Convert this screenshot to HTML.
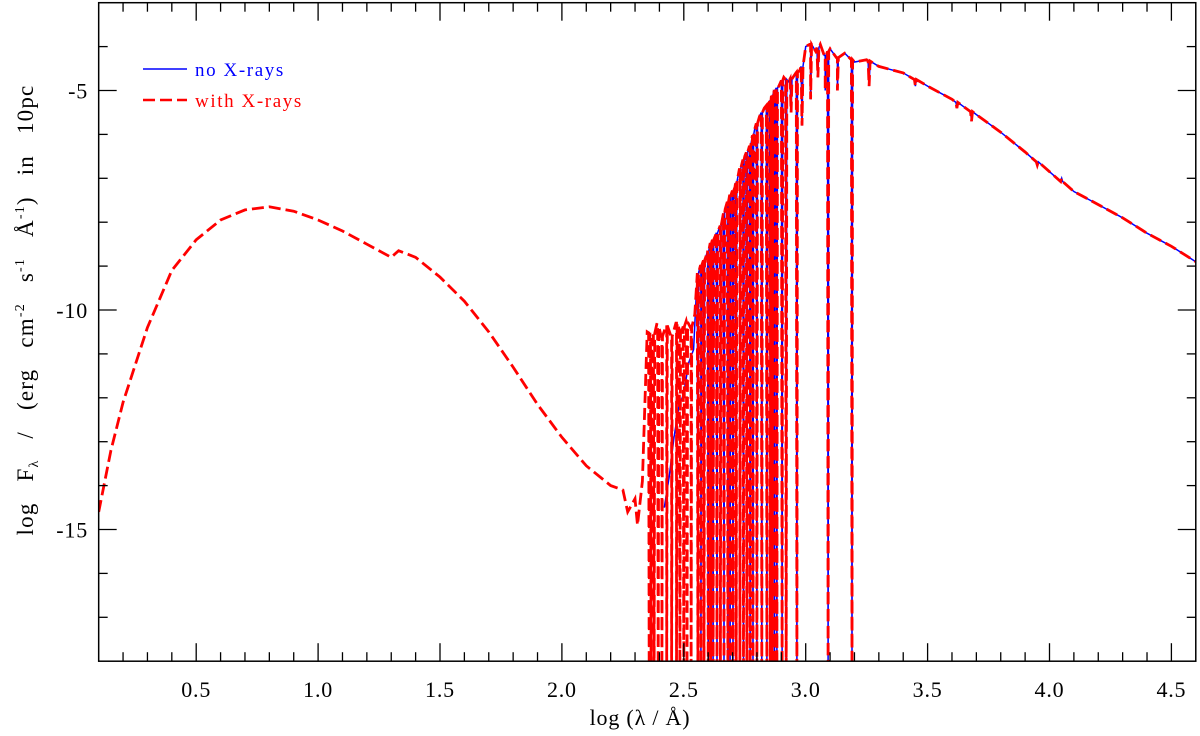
<!DOCTYPE html>
<html><head><meta charset="utf-8"><style>
html,body{margin:0;padding:0;background:#fff;}
svg{display:block;font-family:"Liberation Serif",serif;}
</style></head><body>
<svg id="chart" width="1200" height="736" viewBox="0 0 1200 736">
<g id="series"></g>
<g id="axes"></g>
<g>
  <line x1="143" y1="69" x2="187" y2="69" stroke="#0000ff" stroke-width="1.5"/>
  <text x="195" y="76" font-size="19" letter-spacing="1.6" fill="#0000ff">no X-rays</text>
  <line x1="143" y1="100" x2="187" y2="100" stroke="#ff0000" stroke-width="2.5" stroke-dasharray="12,5"/>
  <text x="195" y="107" font-size="19" letter-spacing="1.6" fill="#ff0000">with X-rays</text>
</g>
<text x="640" y="725" font-size="22" letter-spacing="0.8" text-anchor="middle">log (λ / Å)</text>
<text transform="translate(33,310) rotate(-90)" font-size="23" letter-spacing="1.2" word-spacing="14" text-anchor="middle">log  F<tspan font-size="14" dy="5">λ</tspan><tspan dy="-5"> / (erg cm</tspan><tspan font-size="14" dy="-9">-2</tspan><tspan dy="9"> s</tspan><tspan font-size="14" dy="-9">-1</tspan><tspan dy="9"> Å</tspan><tspan font-size="14" dy="-9">-1</tspan><tspan dy="9">) in 10pc</tspan></text>
</svg>
<script>
const xrayX = [0.1,0.15,0.2,0.3,0.4,0.5,0.6,0.7,0.8,0.9,1.0,1.1,1.2,1.3,1.33,1.4,1.5,1.6,1.7,1.8,1.9,2.0,2.1,2.2,2.25,2.27,2.3,2.31,2.33,2.35];
const xrayY = [-14.6,-13.2,-12.1,-10.4,-9.1,-8.4,-7.95,-7.72,-7.65,-7.75,-7.95,-8.2,-8.5,-8.8,-8.65,-8.8,-9.25,-9.8,-10.5,-11.3,-12.15,-12.9,-13.55,-14.0,-14.1,-14.6,-14.3,-14.9,-13.9,-10.5];
const specX = [2.35,2.37,2.39,2.41,2.43,2.45,2.47,2.49,2.51,2.53,2.545,2.555,2.57,2.59,2.61,2.63,2.65,2.67,2.69,2.71,2.73,2.75,2.77,2.79,2.81,2.83,2.85,2.87,2.89,2.91,2.93,2.96,2.975,2.99,3.0,3.02,3.04,3.06,3.08,3.1,3.13,3.16,3.2,3.25,3.3,3.4,3.5,3.6,3.7,3.8,3.9,4.0,4.1,4.2,4.3,4.4,4.5,4.6];
const specY = [-10.4,-10.7,-10.3,-10.6,-10.35,-10.6,-10.3,-10.5,-10.25,-10.4,-10.1,-9.2,-9.0,-8.8,-8.5,-8.3,-8.1,-7.7,-7.4,-7.2,-6.8,-6.5,-6.3,-5.9,-5.6,-5.4,-5.3,-5.0,-4.9,-4.7,-4.8,-4.6,-4.55,-4.4,-4.0,-3.95,-4.1,-3.95,-4.2,-4.05,-4.25,-4.15,-4.35,-4.3,-4.45,-4.6,-4.9,-5.2,-5.55,-5.95,-6.4,-6.85,-7.3,-7.6,-7.9,-8.25,-8.55,-8.9];
const blueStartX = [2.42,2.44,2.46,2.48,2.5,2.52,2.54];
const blueStartY = [-14.5,-13.8,-12.9,-12.2,-11.9,-11.2,-10.9];
const lineX = [2.358,2.366,2.378,2.395,2.41,2.43,2.45,2.47,2.484,2.5,2.513,2.53,2.558,2.57,2.583,2.6,2.61,2.62,2.636,2.65,2.665,2.681,2.69,2.702,2.715,2.73,2.745,2.759,2.772,2.784,2.8,2.82,2.841,2.855,2.862,2.872,2.882,2.903,2.92,2.964,3.092,3.19];
const bumpX = [2.94,2.985,3.02,3.05,3.08,3.13,3.26,3.45,3.62,3.68,3.95,4.05];
const bumpY = [-5.5,-5.8,-5.2,-4.7,-5.0,-5.0,-4.9,-4.9,-5.4,-5.7,-6.7,-7.0];

const X0=74.3, XS=243.8, Y0=90.5, YS=43.9;
const sx = v => X0 + v*XS;
const sy = v => Y0 - (v+5)*YS;
const NS='http://www.w3.org/2000/svg';
const series=document.getElementById('series');
const axes=document.getElementById('axes');
const XMIN=0.1,XMAX=4.6,YMIN=-18,YMAX=-3;

function interp(xs,ys,x){for(let i=0;i<xs.length-1;i++){if(x>=xs[i]&&x<=xs[i+1]){const t=(x-xs[i])/(xs[i+1]-xs[i]);return ys[i]+t*(ys[i+1]-ys[i]);}}return ys[ys.length-1];}

function specPoints(startX){
  let events=[];
  specX.forEach((x,i)=>{if(x>=startX)events.push([x,specY[i]]);});
  lineX.forEach(x=>{if(x>=startX){const e=interp(specX,specY,x);events.push([x-0.0025,e]);events.push([x,YMIN-0.5]);events.push([x+0.0025,e]);}});
  bumpX.forEach((x,i)=>{const e=interp(specX,specY,x);events.push([x-0.004,e]);events.push([x,bumpY[i]]);events.push([x+0.004,e]);});
  events.sort((a,b)=>a[0]-b[0]);
  return events;
}
function pathFrom(arr){return arr.map((p,i)=>(i?'L':'M')+sx(p[0]).toFixed(1)+','+sy(p[1]).toFixed(1)).join(' ');}

const clip=document.createElementNS(NS,'clipPath');clip.setAttribute('id','pc');
const cr=document.createElementNS(NS,'rect');cr.setAttribute('x',sx(XMIN));cr.setAttribute('y',sy(YMAX));cr.setAttribute('width',sx(XMAX)-sx(XMIN));cr.setAttribute('height',sy(YMIN)-sy(YMAX));
clip.appendChild(cr);series.appendChild(clip);
series.setAttribute('clip-path','url(#pc)');

let bluePts=blueStartX.map((x,i)=>[x,blueStartY[i]]).concat(specPoints(2.55));
const blue=document.createElementNS(NS,'path');
blue.setAttribute('d',pathFrom(bluePts));
blue.setAttribute('fill','none');blue.setAttribute('stroke','#0000ff');blue.setAttribute('stroke-width','1.5');


series.appendChild(blue);

let redPts=xrayX.map((x,i)=>[x,xrayY[i]]).concat(specPoints(2.351));
const red=document.createElementNS(NS,'path');
red.setAttribute('d',pathFrom(redPts));
red.setAttribute('fill','none');red.setAttribute('stroke','#ff0000');red.setAttribute('stroke-width','2.8');red.setAttribute('stroke-dasharray','12,5');


series.appendChild(red);

const L=sx(XMIN),R=sx(XMAX),T=sy(YMAX),B=sy(YMIN);
const fr=document.createElementNS(NS,'rect');
fr.setAttribute('x',L);fr.setAttribute('y',T);fr.setAttribute('width',R-L);fr.setAttribute('height',B-T);
fr.setAttribute('fill','none');fr.setAttribute('stroke','#000');fr.setAttribute('stroke-width','1.5');


axes.appendChild(fr);
function ln(x1,y1,x2,y2,name){const l=document.createElementNS(NS,'line');l.setAttribute('x1',x1);l.setAttribute('y1',y1);l.setAttribute('x2',x2);l.setAttribute('y2',y2);l.setAttribute('stroke','#000');l.setAttribute('stroke-width','1.3');


axes.appendChild(l);}
function tx(x,y,s,anchor,name){const t=document.createElementNS(NS,'text');t.setAttribute('x',x);t.setAttribute('y',y);t.setAttribute('font-size','22');t.setAttribute('letter-spacing','0.8');t.setAttribute('text-anchor',anchor);t.textContent=s;


axes.appendChild(t);}
const xLabels=['0.5','1.0','1.5','2.0','2.5','3.0','3.5','4.0','4.5'];
for(let k=2;k<=45;k++){const v=k/10;if(v<XMIN||v>XMAX)continue;const major=(k%5===0);const len=major?18:9;const x=sx(v);
  ln(x,B,x,B-len,'x-tick');ln(x,T,x,T+len,'x-tick-top');}
xLabels.forEach(s=>tx(sx(parseFloat(s)),697,s,'middle','x-tick-label'));
const yLabels=['-5','-10','-15'];
for(let v=-17;v<=-4;v++){const major=(v%5===0);const len=major?18:9;const y=sy(v);
  ln(L,y,L+len,y,'y-tick');ln(R,y,R-len,y,'y-tick-right');}
yLabels.forEach(s=>tx(88,sy(parseFloat(s))+8,s,'end','y-tick-label'));
</script>
</body></html>
